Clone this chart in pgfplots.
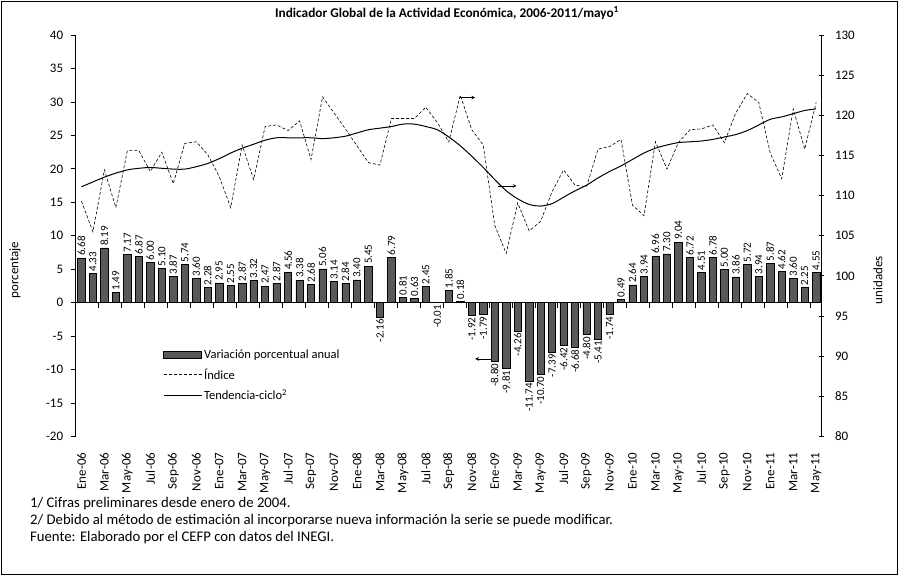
\documentclass[border=0pt]{standalone}
\usepackage{pgfplots}
\usepackage{pgfplotstable}
\pgfplotsset{compat=1.18}
\usepackage{fontspec}
\setmainfont{Carlito}
\newfontfamily\lblfont[LetterSpace=1]{Carlito}
\definecolor{barfill}{HTML}{595959}

\pgfplotstableread{
i pct idx trend
0 6.68 109.3 111.1
1 4.33 105.5 111.7
2 8.19 113.2 112.3
3 1.49 108.5 112.8
4 7.17 115.6 113.2
5 6.87 115.6 113.4
6 6.00 113.0 113.5
7 5.10 115.4 113.4
8 3.87 111.5 113.3
9 5.74 116.5 113.3
10 3.60 116.7 113.6
11 2.28 115.1 114.0
12 2.95 112.4 114.6
13 2.55 108.5 115.3
14 2.87 116.3 115.9
15 3.32 112.0 116.4
16 2.47 118.6 116.9
17 2.87 118.8 117.2
18 4.56 118.1 117.2
19 3.38 119.3 117.2
20 2.68 114.5 117.2
21 5.06 122.3 117.1
22 3.14 120.3 117.2
23 2.84 118.3 117.4
24 3.40 116.2 117.8
25 5.45 114.1 118.2
26 -2.16 113.8 118.4
27 6.79 119.6 118.6
28 0.81 119.6 118.9
29 0.63 119.6 118.9
30 2.45 121.0 118.6
31 -0.01 119.1 118.2
32 1.85 116.7 117.3
33 0.18 122.5 116.2
34 -1.92 118.2 114.9
35 -1.79 116.3 113.5
36 -8.80 106.3 112.0
37 -9.81 102.8 110.6
38 -4.26 109.1 109.6
39 -11.74 105.6 108.9
40 -10.70 106.8 108.7
41 -7.39 110.5 109.0
42 -6.42 113.2 109.8
43 -6.68 111.3 110.6
44 -4.80 111.1 111.3
45 -5.41 115.8 112.2
46 -1.74 116.1 113.0
47 0.49 117.0 113.7
48 2.64 108.8 114.5
49 3.94 107.5 115.3
50 6.96 116.7 115.9
51 7.30 113.3 116.3
52 9.04 116.6 116.6
53 6.72 118.2 116.7
54 4.51 118.3 116.8
55 6.78 118.8 117.0
56 5.00 116.6 117.3
57 3.86 120.3 117.6
58 5.72 122.7 118.1
59 3.94 121.6 118.8
60 5.87 115.3 119.5
61 4.62 112.1 119.8
62 3.60 120.8 120.2
63 2.25 115.8 120.6
64 4.55 121.6 120.8
}\datatable

\begin{document}
\begin{tikzpicture}[x=1pt,y=1pt]
\useasboundingbox (0,0) rectangle (898,575);
\draw[line width=0.8pt] (1,1) rectangle (897,574);

\pgfplotsset{
  commonaxis/.style={
    at={(75.7pt,138.5pt)}, anchor=south west,
    scale only axis, width=745.3pt, height=401.5pt,
    xmin=-0.5, xmax=64.42,
    /pgf/number format/assume math mode=true,
    tick label style={font=\fontsize{13}{15}\selectfont},
    major tick length=5pt,
    axis line style={line width=0.8pt},
    every tick/.style={black, line width=0.8pt},
  },
  barlabel/.style={draw=none, mark=none,
    nodes near coords={\pgfmathprintnumber[fixed,fixed zerofill,precision=2,assume math mode=true]{\pgfplotspointmeta}},
    nodes near coords align={center},
    every node near coord/.append style={rotate=90, font=\fontsize{11}{12}\selectfont, inner sep=2pt, black}},
}

% Bars, left axis
\begin{axis}[commonaxis,
  ymin=-20, ymax=40,
  axis y line*=left, axis x line*=middle,
  ytick={-20,-15,...,40},
  yticklabel style={xshift=-4pt},
  xtick={-0.5,1.5,...,63.5}, xticklabels={},
  tick align=outside,
]
\addplot[ybar, bar width=7.3pt, fill=barfill, draw=black, line width=0.6pt] table[x=i, y=pct] {\datatable};
\addplot[barlabel, restrict y to domain=0:100,
  every node near coord/.append style={anchor=west}] table[x=i, y=pct] {\datatable};
\addplot[barlabel, restrict y to domain=-100:-0.001,
  every node near coord/.append style={anchor=east}] table[x=i, y=pct] {\datatable};
\draw[->, >=stealth, line width=0.7pt] (axis cs:35.8,-8.4) -- (axis cs:34.3,-8.4);
\end{axis}

% Lines, right axis
\begin{axis}[commonaxis,
  ymin=80, ymax=130,
  axis y line*=right, axis x line*=bottom,
  x axis line style={draw=none},
  ytick={80,85,...,130},
  yticklabel style={xshift=8pt},
  tick align=center,
  major x tick style={draw=none},
  xtick={0,2,...,64},
  xticklabels={Ene-06,Mar-06,May-06,Jul-06,Sep-06,Nov-06,
    Ene-07,Mar-07,May-07,Jul-07,Sep-07,Nov-07,
    Ene-08,Mar-08,May-08,Jul-08,Sep-08,Nov-08,
    Ene-09,Mar-09,May-09,Jul-09,Sep-09,Nov-09,
    Ene-10,Mar-10,May-10,Jul-10,Sep-10,Nov-10,
    Ene-11,Mar-11,May-11},
  xticklabel style={rotate=90, anchor=east, xshift=-10pt, font=\lblfont\fontsize{13}{15}\selectfont},
  legend style={at={(0.113,0.227)}, anchor=north west, draw=none, fill=none,
    font=\fontsize{12.5}{14}\selectfont, row sep=5pt},
  legend cell align=left,
  legend image code/.code={\draw[#1] (0pt,0pt) -- (38pt,0pt);},
]
\addlegendimage{legend image code/.code={\draw[fill=barfill, draw=black, line width=0.6pt] (0pt,-3.5pt) rectangle (38pt,3.5pt);}}
\addlegendentry{Variación porcentual anual}
\addplot[black, line width=0.6pt, dash pattern=on 3pt off 2pt] table[x=i, y=idx] {\datatable};
\addlegendentry{Índice}
\addplot[black, line width=1pt, smooth] table[x=i, y=trend] {\datatable};
\addlegendentry{Tendencia-ciclo\textsuperscript{2}}
\draw[->, >=stealth, line width=0.7pt] (axis cs:32.95,122.2) -- (axis cs:34.3,122.2);
\draw[->, >=stealth, line width=0.7pt] (axis cs:36.3,111.2) -- (axis cs:37.9,111.2);
\end{axis}

\node[font=\bfseries\fontsize{13.3}{15}\selectfont] at (447,562) {Indicador Global de la Actividad Económica, 2006-2011/mayo\textsuperscript{1}};
\node[rotate=90, font=\fontsize{13}{15}\selectfont] at (15,305) {porcentaje};
\node[rotate=90, font=\fontsize{13}{15}\selectfont] at (878,295) {unidades};
\node[anchor=west, font=\fontsize{14.7}{16}\selectfont, inner sep=0pt] at (30,71) {1/ Cifras preliminares desde enero de 2004.};
\node[anchor=west, font=\fontsize{14.7}{16}\selectfont, inner sep=0pt] at (30,54) {2/ Debido al método de estimación al incorporarse\ nueva información la serie se puede modificar.};
\node[anchor=west, font=\fontsize{14.7}{16}\selectfont, inner sep=0pt] at (30,37) {Fuente: Elaborado por el CEFP con datos del INEGI.};
\end{tikzpicture}
\end{document}
